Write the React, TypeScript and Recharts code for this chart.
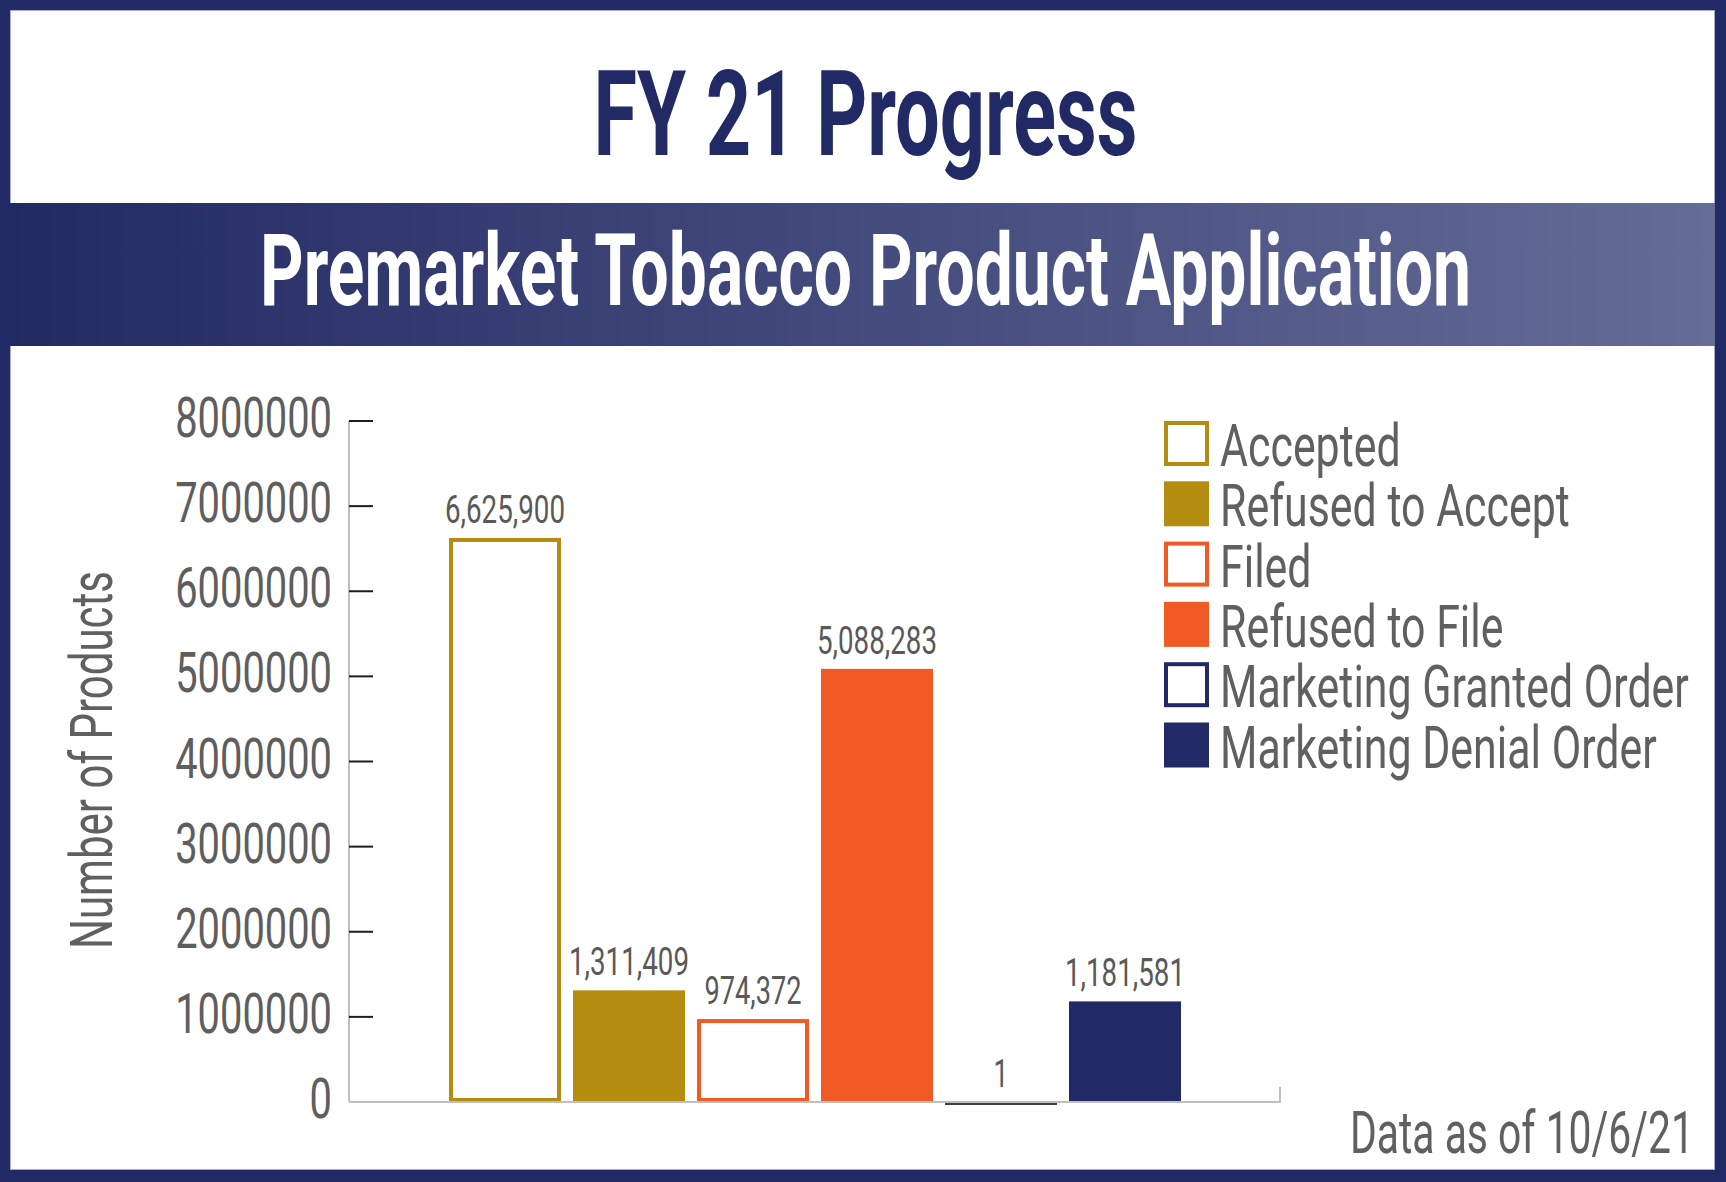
import React from 'react';
import { BarChart, Bar, XAxis, YAxis, Legend, LabelList } from 'recharts';

// one category, six series
const categories = ['FY 21'];
const seriesNames = [
  'Accepted',
  'Refused to Accept',
  'Filed',
  'Refused to File',
  'Marketing Granted Order',
  'Marketing Denial Order',
];
const seriesValues = [6625900, 1311409, 974372, 5088283, 1, 1181581];
const yTicks = [0, 1000000, 2000000, 3000000, 4000000, 5000000, 6000000, 7000000, 8000000];

const GOLD = '#b48c0f';
const ORANGE = '#f05a24';
const NAVY = '#212a64';
const TEXT = '#606060';
const FONT = 'Roboto, "Liberation Sans", sans-serif';

const seriesStyle = [
  { color: GOLD, outline: true },
  { color: GOLD, outline: false },
  { color: ORANGE, outline: true },
  { color: ORANGE, outline: false },
  { color: NAVY, outline: true },
  { color: NAVY, outline: false },
];

const data = categories.map((name) => {
  const row: any = { name };
  seriesValues.forEach((v, i) => {
    row['s' + i] = v;
  });
  return row;
});

const fmt = (v: number) => v.toLocaleString('en-US');

// digits in the source font are narrow, squeeze the text to match
const labelLength = (s: string) => {
  const commas = (s.match(/,/g) || []).length;
  return (s.length - commas) * 14.8 + commas * 8.2;
};

function renderBar(props: any, style: { color: string; outline: boolean }) {
  const { x, y, width, height } = props;
  if (!style.outline) return <rect x={x} y={y} width={width} height={height} fill={style.color} />;
  if (height < 6) {
    // value too small to show as a box, just a line on the axis
    return <line x1={x} x2={x + width} y1={y + height + 1.5} y2={y + height + 1.5} stroke="#3c3f55" strokeWidth={3} />;
  }
  return <rect x={x + 2} y={y + 2} width={width - 4} height={height - 4} fill="#fff" stroke={style.color} strokeWidth={4} />;
}

const ValueLabel = (props: any) => {
  const { x, y, width, value } = props;
  const s = fmt(Number(value));
  return (
    <text
      x={x + width / 2}
      y={y - 15}
      textAnchor="middle"
      fontSize={38}
      fontFamily={FONT}
      fill="#595959"
      textLength={labelLength(s)}
      lengthAdjust="spacingAndGlyphs"
    >
      {s}
    </text>
  );
};

const YTick = (props: any) => {
  const { x, y, payload } = props;
  const s = String(payload.value);
  return (
    <g>
      {payload.value !== 0 && <line x1={x} x2={x + 24} y1={y} y2={y} stroke="#1e1e1e" strokeWidth={2} />}
      <text
        x={x - 17}
        y={y + 16}
        textAnchor="end"
        fontSize={56}
        fontFamily={FONT}
        fill="#5e5e5e"
        textLength={s.length * 22.4}
        lengthAdjust="spacingAndGlyphs"
      >
        {s}
      </text>
    </g>
  );
};

const PAD = 15;

const LegendContent = () => (
  <svg width={560} height={400} style={{ overflow: 'visible' }}>
    {seriesNames.map((name, i) => {
      const st = seriesStyle[i];
      const top = PAD + i * 60.3;
      return (
        <g key={name}>
          {st.outline ? (
            <rect x={2} y={top + 2} width={41} height={41} fill="#fff" stroke={st.color} strokeWidth={4} />
          ) : (
            <rect x={0} y={top} width={45} height={45} fill={st.color} />
          )}
          <text transform={`translate(56, ${top + 45}) scale(0.715, 1)`} fontSize={60} fontFamily={FONT} fill={TEXT}>
            {name}
          </text>
        </g>
      );
    })}
  </svg>
);

export default function App() {
  return (
    <div style={{ position: 'absolute', left: 0, top: 0, width: 1726, height: 1182, background: NAVY, fontFamily: FONT }}>
      <div
        style={{
          position: 'absolute',
          left: 10,
          top: 10,
          width: 1705,
          height: 1160,
          background: '#fff',
          boxShadow: 'inset 0 0 0 1px #a7acd0',
        }}
      />
      <div
        style={{
          position: 'absolute',
          left: 10,
          top: 203,
          width: 1705,
          height: 143,
          background: 'linear-gradient(90deg, #222a63, #656c97)',
        }}
      />
      <div style={{ position: 'absolute', left: 0, top: 0 }}>
        <BarChart
          width={1726}
          height={1182}
          data={data}
          margin={{ top: 421, right: 446, bottom: 79, left: 169 }}
          barSize={112}
          barGap={12}
        >
          <XAxis dataKey="name" tick={false} tickLine={false} height={1} axisLine={{ stroke: '#bfbfbf', strokeWidth: 2 }} />
          <YAxis
            domain={[0, 8000000]}
            ticks={yTicks}
            interval={0}
            width={180}
            tickSize={0}
            tickMargin={0}
            tickLine={false}
            axisLine={{ stroke: '#bfbfbf', strokeWidth: 2 }}
            tick={<YTick />}
          />
          <Legend
            layout="vertical"
            align="center"
            verticalAlign="middle"
            content={<LegendContent />}
            wrapperStyle={{ left: 1164, top: 421 - PAD, width: 560, height: 400 }}
          />
          {seriesNames.map((name, i) => (
            <Bar
              key={name}
              name={name}
              dataKey={'s' + i}
              fill={seriesStyle[i].color}
              isAnimationActive={false}
              shape={(p: any) => renderBar(p, seriesStyle[i])}
            >
              <LabelList dataKey={'s' + i} content={<ValueLabel />} />
            </Bar>
          ))}
        </BarChart>
      </div>
      <svg width={1726} height={1182} style={{ position: 'absolute', left: 0, top: 0, pointerEvents: 'none' }}>
        <text
          x={865.5}
          y={155}
          textAnchor="middle"
          fontSize={119}
          fontWeight={700}
          fontFamily={FONT}
          fill={NAVY}
          textLength={544}
          lengthAdjust="spacingAndGlyphs"
        >
          FY 21 Progress
        </text>
        <text
          x={865.5}
          y={305}
          textAnchor="middle"
          fontSize={101}
          fontWeight={700}
          fontFamily={FONT}
          fill="#fff"
          textLength={1211}
          lengthAdjust="spacingAndGlyphs"
        >
          Premarket Tobacco Product Application
        </text>
        <text
          transform="translate(112, 760) rotate(-90)"
          textAnchor="middle"
          fontSize={60}
          fontFamily={FONT}
          fill={TEXT}
          textLength={378}
          lengthAdjust="spacingAndGlyphs"
        >
          Number of Products
        </text>
        <text
          x={1694}
          y={1153}
          textAnchor="end"
          fontSize={60}
          fontFamily={FONT}
          fill={TEXT}
          textLength={344}
          lengthAdjust="spacingAndGlyphs"
        >
          Data as of 10/6/21
        </text>
        <line x1={1280} x2={1280} y1={1087} y2={1103} stroke="#bfbfbf" strokeWidth={2} />
      </svg>
    </div>
  );
}
